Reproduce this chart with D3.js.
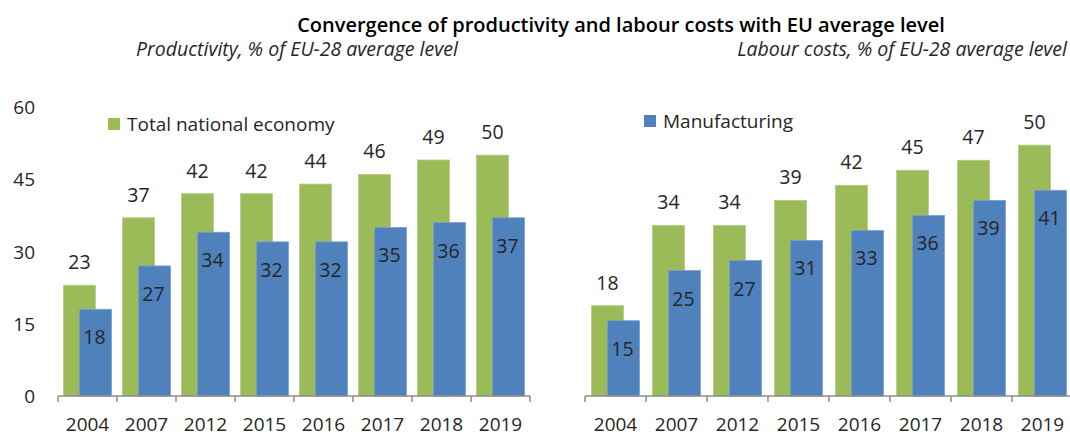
<!DOCTYPE html>
<html>
<head>
<meta charset="utf-8">
<script src="https://cdn.jsdelivr.net/npm/d3@7"></script>
<style>
  html, body { margin: 0; padding: 0; background: #fff; }
  svg { display: block; font-family: "Open Sans", "Noto Sans", sans-serif; }
</style>
</head>
<body>
<svg id="chart" width="1070" height="436"></svg>
<script>
// Categories and series
const years = ["2004", "2007", "2012", "2015", "2016", "2017", "2018", "2019"];
const productivityTotal = [23, 37, 42, 42, 44, 46, 49, 50];
const productivityManufacturing = [18, 27, 34, 32, 32, 35, 36, 37];
const labourCostsTotal = [18, 34, 34, 39, 42, 45, 47, 50];
const labourCostsManufacturing = [15, 25, 27, 31, 33, 36, 39, 41];
const yTicks = [0, 15, 30, 45, 60];

const seriesNames = ["Total national economy", "Manufacturing"];
const chartTitle = "Convergence of productivity and labour costs with EU average level";
const leftSubtitle = "Productivity, % of EU-28 average level";
const rightSubtitle = "Labour costs, % of EU-28 average level";

const GREEN = "#9BBB59";
const BLUE = "#4F81BD";
const AXIS = "#8c8c8c";
const TEXT = "#262626";

const svg = d3.select("#chart");

// Title and subtitles
svg.append("text")
  .attr("x", 621).attr("y", 32)
  .attr("text-anchor", "middle")
  .attr("font-size", 20).attr("font-weight", 600)
  .attr("fill", "#000")
  .text(chartTitle);

svg.append("text")
  .attr("x", 136).attr("y", 56)
  .attr("font-size", 19.5).attr("font-style", "italic")
  .attr("fill", TEXT)
  .text(leftSubtitle);

svg.append("text")
  .attr("x", 1067).attr("y", 56)
  .attr("text-anchor", "end")
  .attr("font-size", 19.5).attr("font-style", "italic")
  .attr("fill", TEXT)
  .text(rightSubtitle);

// One clustered-bar panel: green total bars with blue manufacturing bars overlapping them
function panel(opts) {
  const g = svg.append("g");
  const x = d3.scaleBand().domain(years).range(opts.xRange).padding(0);
  const y = d3.scaleLinear().domain([0, 60]).range(opts.yRange);
  const bw = x.bandwidth();
  const barW = 32;
  const offset = (bw - barW * 1.5) / 2;

  const rows = years.map((yr, i) => ({ yr, total: opts.total[i], manuf: opts.manuf[i] }));

  // green bars
  g.selectAll("rect.total").data(rows).join("rect")
    .attr("class", "total")
    .attr("x", d => x(d.yr) + offset)
    .attr("y", d => y(d.total))
    .attr("width", barW)
    .attr("height", d => y(0) - y(d.total))
    .attr("fill", GREEN)
    .attr("stroke", "#b4cd84").attr("stroke-width", 0.8);

  // blue bars
  g.selectAll("rect.manuf").data(rows).join("rect")
    .attr("class", "manuf")
    .attr("x", d => x(d.yr) + offset + barW / 2)
    .attr("y", d => y(d.manuf))
    .attr("width", barW)
    .attr("height", d => y(0) - y(d.manuf))
    .attr("fill", BLUE)
    .attr("stroke", "#7a9fd0").attr("stroke-width", 0.8);

  // value labels
  g.selectAll("text.tl").data(rows).join("text")
    .attr("class", "tl")
    .attr("x", d => x(d.yr) + offset + barW / 2)
    .attr("y", d => y(d.total) - 16)
    .attr("text-anchor", "middle")
    .attr("font-size", 19.5).attr("fill", TEXT)
    .text(d => d.total);

  g.selectAll("text.ml").data(rows).join("text")
    .attr("class", "ml")
    .attr("x", d => x(d.yr) + offset + barW - 1)
    .attr("y", d => y(d.manuf) + 35)
    .attr("text-anchor", "middle")
    .attr("font-size", 19.5).attr("fill", TEXT)
    .text(d => d.manuf);

  // category axis
  const axisY = y(0);
  g.append("line")
    .attr("x1", opts.xRange[0]).attr("x2", opts.xRange[1])
    .attr("y1", axisY).attr("y2", axisY)
    .attr("stroke", AXIS).attr("stroke-width", 1.5);
  const bounds = years.map(yr => x(yr)).concat([opts.xRange[1]]);
  g.selectAll("line.tick").data(bounds).join("line")
    .attr("class", "tick")
    .attr("x1", d => d).attr("x2", d => d)
    .attr("y1", axisY).attr("y2", axisY + 6)
    .attr("stroke", AXIS).attr("stroke-width", 1.5);
  g.selectAll("text.cat").data(years).join("text")
    .attr("class", "cat")
    .attr("x", d => x(d) + bw / 2)
    .attr("y", 430.5)
    .attr("text-anchor", "middle")
    .attr("font-size", 19).attr("fill", TEXT)
    .text(d => d);

  if (opts.showY) {
    g.selectAll("text.yt").data(yTicks).join("text")
      .attr("class", "yt")
      .attr("x", 35)
      .attr("y", d => y(d) + 7)
      .attr("text-anchor", "end")
      .attr("font-size", 19).attr("fill", TEXT)
      .text(d => d);
  }

  // legend entry
  g.append("rect")
    .attr("x", opts.legend[0]).attr("y", opts.legend[1])
    .attr("width", 12).attr("height", 12)
    .attr("fill", opts.legendColor);
  g.append("text")
    .attr("x", opts.legend[0] + 19).attr("y", opts.legend[1] + 13)
    .attr("font-size", 19).attr("fill", TEXT)
    .text(opts.legendText);
}

panel({
  xRange: [58, 530], yRange: [396, 107],
  total: productivityTotal, manuf: productivityManufacturing,
  showY: true, legend: [108, 118], legendColor: GREEN, legendText: seriesNames[0]
});

panel({
  xRange: [585, 1073], yRange: [396, 95],
  total: labourCostsTotal, manuf: labourCostsManufacturing,
  showY: false, legend: [644, 115], legendColor: BLUE, legendText: seriesNames[1]
});
</script>
</body>
</html>
